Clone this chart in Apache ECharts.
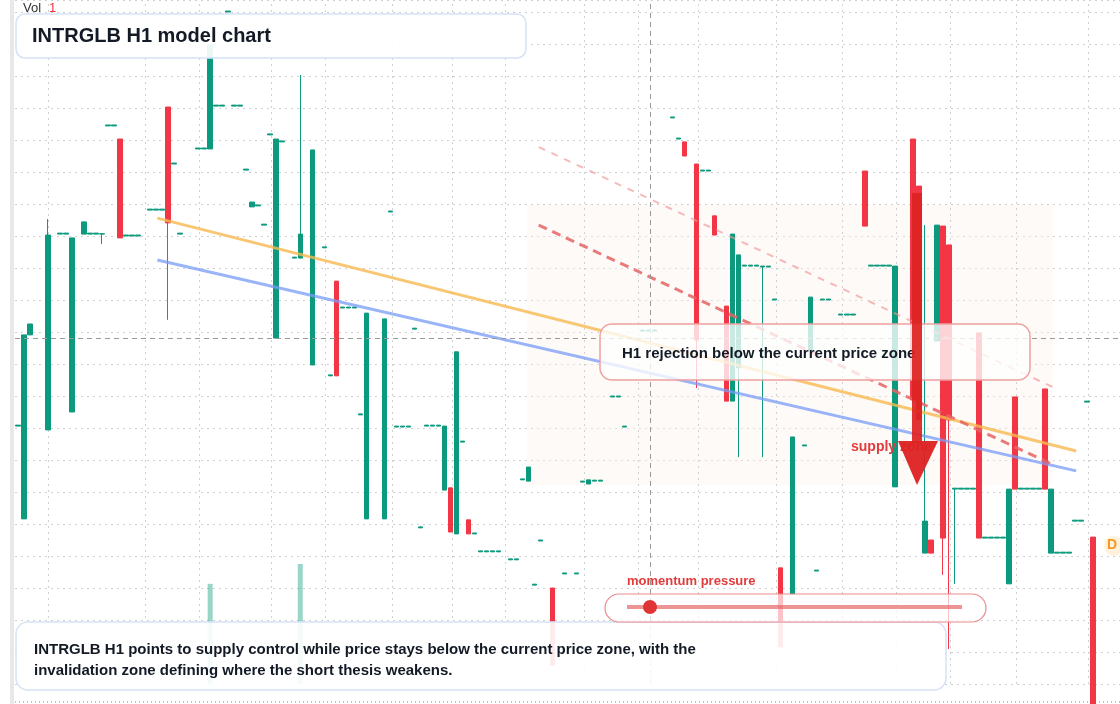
<!DOCTYPE html>
<html><head><meta charset="utf-8">
<script src="https://cdn.jsdelivr.net/npm/echarts@6/dist/echarts.min.js"></script>
<style>html,body{margin:0;padding:0;background:#fff}#c{width:1120px;height:704px}</style>
</head><body><div id="c"></div>
<script>
const SLOTS = 184;
// candles: [slot, open, close, low, high]
const candles = [
 [1,5.16,10.91,5.16,10.91],[2,10.91,11.25,10.91,11.25],[5,7.94,14.03,7.94,14.53],[9,8.5,13.94,8.5,13.94],
 [11,14.06,14.44,14.06,14.44],[14,14.06,14.07,13.75,14.07],[17,17.03,13.94,13.94,17.03],[25,18.03,14.41,11.38,18.03],
 [32,16.72,19.97,16.72,19.97],[39,14.91,15.06,14.91,15.06],[43,10.81,17.03,10.81,17.03],[47,13.31,14.06,13.31,19.03],
 [49,9.97,16.69,9.97,16.69],[53,12.59,9.63,9.63,12.59],[58,5.16,11.59,5.16,11.59],[61,5.16,11.41,5.16,11.41],
 [71,6.06,8.06,6.06,8.06],[72,6.13,4.75,4.75,6.13],[73,4.69,10.38,4.69,10.38],[75,5.13,4.69,4.69,5.13],
 [85,6.34,6.78,6.34,6.78],[89,3.0,0.59,0.59,3.0],[95,6.25,6.38,6.25,6.38],[111,16.94,16.5,16.5,16.94],
 [113,16.25,10.75,9.25,16.25],[116,14.63,14.03,14.03,14.63],[118,11.81,8.84,8.84,11.81],[119,8.84,14.06,8.84,14.06],
 [120,9.88,13.41,7.09,13.41],[124,13.03,13.06,7.09,13.06],[127,3.63,1.16,1.16,3.63],[129,2.81,7.72,2.81,7.72],
 [132,10.44,12.09,10.44,12.09],[141,16.03,14.31,14.31,16.03],[146,6.16,13.06,6.16,13.06],[149,17.03,8.88,8.88,17.03],
 [150,15.56,8.25,8.25,15.56],[151,4.09,5.09,4.09,14.34],[152,4.5,4.09,4.09,4.5],[153,10.72,14.34,10.72,14.34],
 [154,14.31,4.56,3.41,14.31],[155,13.72,8.25,1.09,13.72],[156,6.09,6.12,3.13,6.12],[160,10.97,4.56,4.56,10.97],
 [165,3.13,6.09,3.13,6.09],[166,8.97,6.09,6.09,8.97],[171,9.22,6.09,6.09,9.22],[172,4.09,6.09,4.09,6.09],
 [179,4.59,-0.8,-0.8,4.59]
];
// flat bars: [slot, level]
const flats = [[0,8.06],[15,17.44],[16,17.44],[7,14.06],[8,14.06],[12,14.06],[13,14.06],[18,14.0],[19,14.0],[20,14.0],
 [22,14.81],[23,14.81],[24,14.81],[26,16.25],[27,14.06],[30,16.72],[31,16.72],[33,18.06],[34,18.06],[36,18.06],[37,18.06],
 [35,21.0],[38,16.06],[40,14.94],[41,14.34],[42,17.16],[44,16.94],[46,13.31],[51,13.63],[52,9.63],[54,11.75],[55,11.75],
 [56,11.75],[57,8.41],[62,14.75],[63,8.03],[64,8.03],[65,8.03],[66,11.09],[67,4.88],[68,8.06],[69,8.06],[70,8.06],
 [74,7.56],[76,4.69],[77,4.13],[78,4.13],[79,4.13],[80,4.13],[82,3.88],[83,3.88],[84,6.38],[86,3.09],[87,4.47],[91,3.44],
 [93,3.44],[94,6.31],[96,6.34],[97,6.34],[99,8.97],[100,8.97],[101,8.03],[104,11.03],[105,11.03],[106,11.03],[109,17.69],
 [110,17.03],[114,16.03],[115,16.03],[121,13.06],[122,13.06],[123,13.06],[125,13.03],[126,12.0],[131,7.44],[133,3.53],
 [134,12.0],[135,12.0],[137,11.53],[138,11.53],[139,11.53],[142,13.06],[143,13.06],[144,13.06],[145,13.06],
 [157,6.09],[158,6.09],[159,6.09],[161,4.56],[162,4.56],[163,4.56],[164,4.56],[167,6.09],[168,6.09],[169,6.09],[170,6.09],
 [173,4.09],[174,4.09],[175,4.09],[176,5.09],[177,5.09],[178,8.81]];
const volumes = [[32,3.13],[47,3.75]];
const vGrid = [5,21.2,30.2,42.2,51.2,62.3,72.3,81.2,94.3,103.2,113.3,126.2,137.2,146.3,155.2,166.2,178.2];
const orangeLine = [[23.2,14.56],[176.2,7.28]];
const blueLine = [[23.2,13.25],[176.2,6.66]];
const redDash = [[86.7,14.34],[172.5,6.84]];
const lightDash = [[86.7,16.78],[172.3,9.28]];
const currentPrice = 10.81;
const nowSlot = 105.3;
const zone = [[84.8,14.97],[172.3,6.22]];

const cats = Array.from({length:SLOTS},(_, i)=>String(i));
const kData = cats.map(()=>'-');
candles.forEach(c=>{kData[c[0]]=[c[1],c[2],c[3],c[4]];});
flats.forEach(f=>{kData[f[0]]=[f[1],f[1]+0.03,f[1],f[1]+0.03];});
const vData = cats.map(()=>'-');
volumes.forEach(v=>{vData[v[0]]=v[1];});

const G='#0b9a7d', R='#f23645';
const chart = echarts.init(document.getElementById('c'));
chart.setOption({
 animation:false,
 grid:{left:15,right:0,top:0,bottom:20},
 xAxis:[
  {type:'category',data:cats,axisLine:{show:false},axisTick:{show:false},axisLabel:{show:false},splitLine:{show:false}},
  {type:'value',min:-0.5,max:SLOTS-0.5,show:false}
 ],
 yAxis:{type:'value',min:0,max:21.375,interval:1,axisLine:{show:false},axisTick:{show:false},axisLabel:{show:false},
  splitLine:{lineStyle:{color:'#d0d0d0',type:[2,4]}}},
 series:[
  {type:'line',xAxisIndex:1,data:[],silent:true,z:0,zlevel:0,
   markLine:{symbol:'none',silent:true,z:0,label:{show:false},lineStyle:{color:'#d0d0d0',type:[2,4],width:1},
    data:vGrid.map(x=>({xAxis:x}))},
   markArea:{silent:true,z:0,itemStyle:{color:'rgba(250,240,232,0.3)',borderRadius:14},data:[[{coord:zone[0]},{coord:zone[1]}]]}},
  {type:'bar',data:vData,barWidth:5,itemStyle:{color:'rgba(11,154,125,0.42)'},z:1},
  {type:'candlestick',data:kData,barWidth:5,z:3,
   itemStyle:{color:G,color0:R,borderColor:G,borderColor0:R,borderWidth:1}},
  {type:'line',xAxisIndex:1,data:orangeLine,symbol:'none',lineStyle:{color:'rgba(248,185,80,0.8)',width:3},z:4},
  {type:'line',xAxisIndex:1,data:blueLine,symbol:'none',lineStyle:{color:'rgba(120,155,245,0.75)',width:3},z:4},
  {type:'line',xAxisIndex:1,data:redDash,symbol:'none',lineStyle:{color:'rgba(230,100,100,0.85)',width:3,type:[9,6]},z:4},
  {type:'line',xAxisIndex:1,data:lightDash,symbol:'none',lineStyle:{color:'rgba(240,150,150,0.65)',width:2,type:[7,7]},z:4},
  {type:'line',xAxisIndex:1,data:[],z:2,
   markLine:{symbol:'none',silent:true,label:{show:false},lineStyle:{color:'#999',type:[5,4],width:1},
    data:[{yAxis:currentPrice},{xAxis:nowSlot}]}}
 ],
 graphic:[
  {type:'rect',shape:{x:10,y:0,width:4,height:704},style:{fill:'#e8e8e8'},z:1},
  {type:'line',shape:{x1:15,y1:702,x2:1120,y2:702},style:{stroke:'#f05a5a',lineDash:[1,3],lineWidth:1}},
  {type:'text',left:23,top:2,style:{text:'Vol',fontSize:13,fill:'#333',fontFamily:'Liberation Sans'}},
  {type:'text',left:49,top:2,style:{text:'1',fontSize:13,fill:'#f23645',fontFamily:'Liberation Sans'}},
  {type:'rect',shape:{x:16,y:14,width:510,height:44,r:9},style:{fill:'rgba(255,255,255,0.92)',stroke:'#d6e2f6',lineWidth:1.5},z:10},
  {type:'text',left:32,top:26,z:11,style:{text:'INTRGLB H1 model chart',fontSize:20,fontWeight:'bold',fill:'#131a26',fontFamily:'Liberation Sans'}},
  {type:'rect',shape:{x:600,y:324,width:430,height:56,r:12},style:{fill:'rgba(255,255,255,0.78)',stroke:'#f0a0a0',lineWidth:1.5},z:10},
  {type:'text',left:622,top:346,z:11,style:{text:'H1 rejection below the current price zone',fontSize:15,fontWeight:'bold',fill:'#131a26',fontFamily:'Liberation Sans'}},
  {type:'text',left:851,top:440,z:11,style:{text:'supply zone',fontSize:14,fontWeight:'bold',fill:'#e23b3b',fontFamily:'Liberation Sans'}},
  {type:'rect',shape:{x:912,y:193,width:10,height:250},style:{fill:'rgba(221,35,35,0.92)'},z:12},
  {type:'polygon',shape:{points:[[898,441],[938,441],[917,485]]},style:{fill:'rgba(221,35,35,0.95)'},z:12},
  {type:'rect',shape:{x:16,y:622,width:930,height:68,r:12},style:{fill:'rgba(255,255,255,0.9)',stroke:'#d6e2f6',lineWidth:1.5},z:10},
  {type:'text',left:34,top:639,z:11,style:{text:'INTRGLB H1 points to supply control while price stays below the current price zone, with the\ninvalidation zone defining where the short thesis weakens.',fontSize:15,lineHeight:21,fontWeight:'bold',fill:'#131a26',fontFamily:'Liberation Sans'}},
  {type:'text',left:627,top:575,z:11,style:{text:'momentum pressure',fontSize:13,fontWeight:'bold',fill:'#e23b3b',fontFamily:'Liberation Sans'}},
  {type:'rect',shape:{x:605,y:594,width:381,height:28,r:14},style:{fill:'rgba(255,255,255,0.7)',stroke:'#ec8a8a',lineWidth:1.2},z:10},
  {type:'line',shape:{x1:627,y1:607,x2:962,y2:607},style:{stroke:'rgba(228,90,90,0.65)',lineWidth:4},z:11},
  {type:'circle',shape:{cx:650,cy:607,r:7},style:{fill:'#e03535'},z:12},
  {type:'circle',shape:{cx:1114,cy:546,r:10},style:{fill:'#fff1dc'},z:11},
  {type:'text',left:1107,top:538,z:12,style:{text:'D',fontSize:14,fontWeight:'bold',fill:'#f59a23',fontFamily:'Liberation Sans'}}
 ]
});
</script></body></html>
